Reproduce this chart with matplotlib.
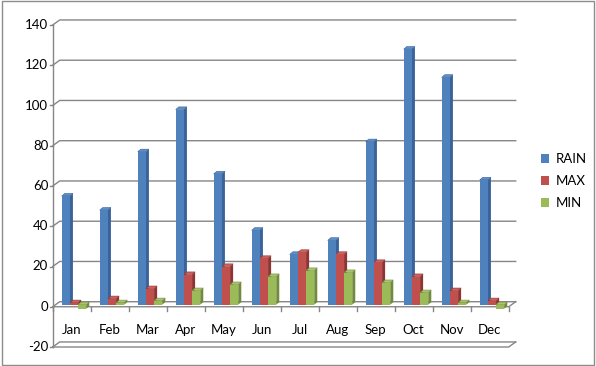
import matplotlib

matplotlib.use("Agg")
import matplotlib.pyplot as plt
from matplotlib.patches import Polygon, Rectangle

months = ["Jan", "Feb", "Mar", "Apr", "May", "Jun",
          "Jul", "Aug", "Sep", "Oct", "Nov", "Dec"]
rain = [54, 47, 76, 97, 65, 37, 25, 32, 81, 127, 113, 62]
tmax = [1, 3, 8, 15, 19, 23, 26, 25, 21, 14, 7, 2]
tmin = [-2, 1, 2, 7, 10, 14, 17, 16, 11, 6, 1, -2]
yticks = [-20, 0, 20, 40, 60, 80, 100, 120, 140]

series = [("RAIN", rain, "#4F81BD", "#3A639B", "#5F8DC6"),
          ("MAX", tmax, "#C0504D", "#8E3533", "#CC615E"),
          ("MIN", tmin, "#9BBB59", "#718B3C", "#A9C46C")]

plt.rcParams["font.family"] = ["Lato", "DejaVu Sans"]

fig = plt.figure(figsize=(5.96, 3.66), dpi=100)
ax = fig.add_axes([52.7 / 596, 19 / 366, 456 / 596, 322 / 366])
ax.set_xlim(-0.5, 11.5)
ax.set_ylim(-20, 140)
ax.axis("off")

grid_c = "#868686"
dx, dy = 0.184, 2.5          # profondeur du mur du fond
n = len(months)

# mur du fond + quadrillage
for y in yticks:
    ax.plot([-0.5, -0.5 + dx, n - 0.5 + dx], [y, y + dy, y + dy],
            color=grid_c, lw=1, clip_on=False, zorder=1)
    ax.plot([-0.58, -0.5], [y, y], color=grid_c, lw=1, clip_on=False)
    ax.text(-0.62, y, str(y), ha="right", va="center", fontsize=9.5,
            color="#000000")
ax.plot([-0.5, -0.5], [-20, 140], color=grid_c, lw=1, clip_on=False)

# sol a 0 et plancher a -20
for y in (0, -20):
    ax.plot([-0.5, n - 0.5, n - 0.5 + dx], [y, y, y + dy],
            color=grid_c, lw=1, clip_on=False, zorder=2)
for k in range(n + 1):
    ax.plot([k - 0.5, k - 0.5], [0, -2.2], color=grid_c, lw=1, clip_on=False)

for k, m in enumerate(months):
    ax.text(k, -11.5, m, ha="center", va="center", fontsize=9.5)

# barres pseudo-3D
w = 0.215
ox, oy = 0.06, 1.0      # decalage de la face avant
ddx, ddy = 0.08, 1.3    # epaisseur de la barre
for i, (name, vals, front, side, top) in enumerate(series):
    for k, v in enumerate(vals):
        x0 = k + ox + (i - 1.5) * w
        lo, hi = min(0, v) + oy, max(0, v) + oy
        z = 5 + i
        ax.add_patch(Polygon([(x0 + w, lo), (x0 + w + ddx, lo + ddy),
                              (x0 + w + ddx, hi + ddy), (x0 + w, hi)],
                             closed=True, fc=side, ec="none", zorder=z))
        ax.add_patch(Polygon([(x0, hi), (x0 + ddx, hi + ddy),
                              (x0 + w + ddx, hi + ddy), (x0 + w, hi)],
                             closed=True, fc=top, ec=side, lw=0.4, zorder=z))
        ax.add_patch(Rectangle((x0, lo), w, hi - lo, fc=front, ec="none",
                               zorder=z, label=name if k == 0 else None))

ax.legend(loc="center left", bbox_to_anchor=(1.045, 0.515), frameon=False,
          fontsize=9.5, handlelength=0.6, handleheight=0.6, handletextpad=0.5,
          labelspacing=0.75)

# cadre du graphique
fig.patches.append(Rectangle((0.003, 0.004), 0.993, 0.992,
                             transform=fig.transFigure, fill=False,
                             ec="#8C8C8C", lw=1))

fig.savefig("out.png", dpi=100, facecolor="white")
